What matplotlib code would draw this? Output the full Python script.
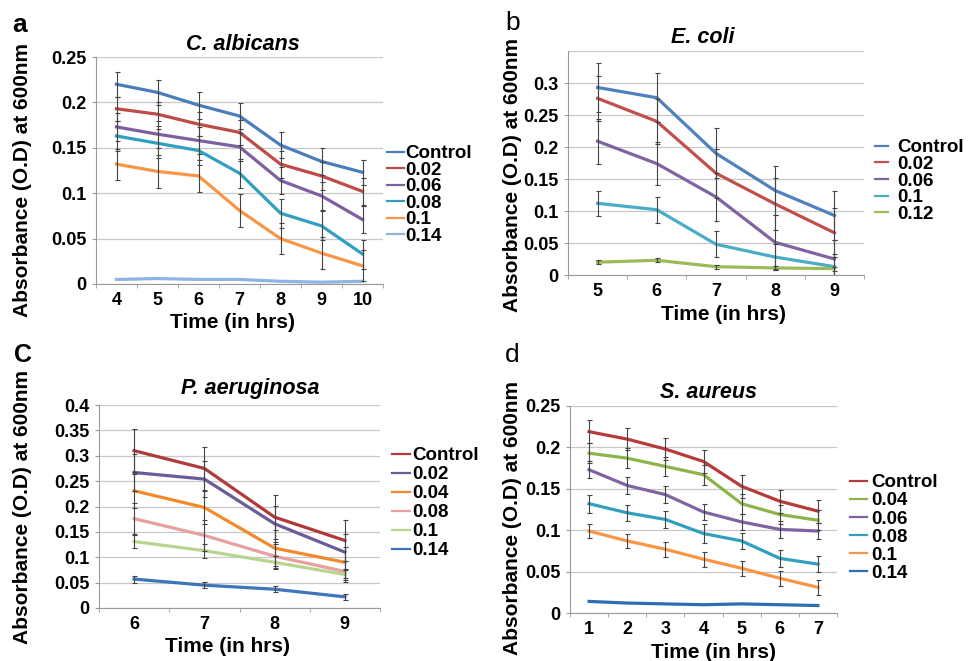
import matplotlib
matplotlib.use("Agg")
import matplotlib.pyplot as plt
import numpy as np

plt.rcParams["font.family"] = ["Liberation Sans", "DejaVu Sans"]
plt.rcParams["font.weight"] = "bold"

# C. albicans
ca_hours = [4, 5, 6, 7, 8, 9, 10]
ca_labels = ["Control", "0.02", "0.06", "0.08", "0.1", "0.14"]
ca_values = [
  [0.220, 0.211, 0.197, 0.185, 0.153, 0.135, 0.123],
  [0.193, 0.187, 0.176, 0.167, 0.132, 0.119, 0.102],
  [0.173, 0.165, 0.158, 0.151, 0.114, 0.097, 0.071],
  [0.163, 0.155, 0.147, 0.122, 0.078, 0.064, 0.033],
  [0.132, 0.124, 0.119, 0.081, 0.050, 0.034, 0.020],
  [0.005, 0.006, 0.005, 0.005, 0.003, 0.002, 0.003],
]
ca_errors = [
  [0.014, 0.014, 0.015, 0.014, 0.014, 0.015, 0.014],
  [0.013, 0.013, 0.013, 0.014, 0.015, 0.015, 0.015],
  [0.015, 0.015, 0.015, 0.015, 0.015, 0.015, 0.015],
  [0.016, 0.016, 0.016, 0.016, 0.016, 0.016, 0.016],
  [0.017, 0.018, 0.018, 0.018, 0.017, 0.018, 0.017],
  None,
]
ca_colors = ["#4A7EBB", "#BE4B48", "#7D60A0", "#31A0BE", "#F79646", "#8EB4E3"]

# E. coli
ec_hours = [5, 6, 7, 8, 9]
ec_labels = ["Control", "0.02", "0.06", "0.1", "0.12"]
ec_values = [
  [0.293, 0.277, 0.190, 0.132, 0.093],
  [0.276, 0.240, 0.159, 0.111, 0.066],
  [0.209, 0.174, 0.122, 0.051, 0.025],
  [0.112, 0.102, 0.048, 0.028, 0.013],
  [0.020, 0.023, 0.013, 0.011, 0.010],
]
ec_errors = [
  [0.039, 0.038, 0.039, 0.038, 0.038],
  [0.035, 0.035, 0.038, 0.040, 0.038],
  [0.035, 0.034, 0.037, 0.042, 0.030],
  [0.020, 0.020, 0.020, 0.020, 0.020],
  [0.003, 0.003, 0.003, 0.003, 0.003],
]
ec_colors = ["#4F81BD", "#C0504D", "#8064A2", "#4BACC6", "#9BBB59"]

# P. aeruginosa
pa_hours = [6, 7, 8, 9]
pa_labels = ["Control", "0.02", "0.04", "0.08", "0.1", "0.14"]
pa_values = [
  [0.310, 0.275, 0.179, 0.133],
  [0.267, 0.254, 0.166, 0.110],
  [0.231, 0.198, 0.118, 0.090],
  [0.176, 0.143, 0.102, 0.072],
  [0.131, 0.113, 0.090, 0.066],
  [0.057, 0.045, 0.037, 0.022],
]
pa_errors = [
  [0.042, 0.042, 0.043, 0.041],
  [0.037, 0.036, 0.035, 0.035],
  [0.033, 0.033, 0.035, 0.030],
  [0.030, 0.030, 0.025, 0.020],
  [0.013, 0.014, 0.012, 0.010],
  [0.007, 0.006, 0.006, 0.006],
]
pa_colors = ["#B03A3A", "#6B5B9A", "#F08A2C", "#E6A0A0", "#B7D58F", "#3F74B8"]

# S. aureus
sa_hours = [1, 2, 3, 4, 5, 6, 7]
sa_labels = ["Control", "0.04", "0.06", "0.08", "0.1", "0.14"]
sa_values = [
  [0.219, 0.210, 0.198, 0.183, 0.153, 0.135, 0.123],
  [0.193, 0.187, 0.177, 0.167, 0.132, 0.119, 0.112],
  [0.173, 0.154, 0.143, 0.122, 0.110, 0.101, 0.099],
  [0.132, 0.121, 0.113, 0.096, 0.087, 0.066, 0.059],
  [0.099, 0.087, 0.077, 0.065, 0.054, 0.042, 0.031],
  [0.014, 0.012, 0.011, 0.010, 0.011, 0.010, 0.009],
]
sa_errors = [
  [0.014, 0.013, 0.013, 0.014, 0.014, 0.014, 0.014],
  [0.012, 0.012, 0.012, 0.012, 0.012, 0.012, 0.012],
  [0.010, 0.010, 0.010, 0.010, 0.010, 0.010, 0.010],
  [0.011, 0.010, 0.010, 0.011, 0.010, 0.010, 0.010],
  [0.009, 0.009, 0.009, 0.009, 0.009, 0.009, 0.009],
  None,
]
sa_colors = ["#B83B3B", "#8DB44A", "#8064A2", "#31A0BE", "#F79646", "#2F6DB5"]

W, H = 969, 661


def fig_rect(x0, y0, x1, y1):
  """Pixel box (top-left origin) to figure fraction rect"""
  return [x0 / W, 1 - y1 / H, (x1 - x0) / W, (y1 - y0) / H]


def draw_panel(ax, hours, labels, values, errors, colors, title, ymax, yticks,
               title_pad, title_x, xlabel_x, ylabel_xy, leg_xy, handlelength,
               textpad, labelspacing):
  x = np.arange(len(hours))
  for vals, errs, color, label in zip(values, errors, colors, labels):
    ax.plot(x, vals, color=color, lw=2.3, label=label, zorder=3)
    if errs is not None:
      ax.errorbar(x, vals, yerr=errs, fmt="none", ecolor="#444444",
                  elinewidth=0.8, capsize=1.8, capthick=0.8, zorder=4)

  ax.set_xlim(-0.5, len(hours) - 0.5)
  ax.set_ylim(0, ymax)
  ax.set_xticks(x)
  ax.set_xticklabels([str(h) for h in hours])
  ax.set_xticks(np.arange(len(hours) + 1) - 0.5, minor=True)
  ax.set_yticks(yticks)
  ax.set_yticklabels([f"{t:g}" for t in yticks])
  ax.grid(axis="y", color="#C8C8C8", lw=0.9)
  ax.set_axisbelow(True)
  for side in ["top", "right"]:
    ax.spines[side].set_visible(False)
  for side in ["left", "bottom"]:
    ax.spines[side].set_color("#9A9A9A")
  ax.tick_params(axis="x", which="major", length=0, pad=6, labelsize=13)
  ax.tick_params(axis="x", which="minor", length=3, color="#9A9A9A")
  ax.tick_params(axis="y", length=3, color="#9A9A9A", pad=4, labelsize=13)

  ax.set_title(title, fontsize=15.5, fontweight="bold", style="italic",
               pad=title_pad, x=title_x)
  ax.set_xlabel("Time (in hrs)", fontsize=15, fontweight="bold", labelpad=3)
  ax.xaxis.label.set_x(xlabel_x)
  ax.set_ylabel("Absorbance (O.D) at 600nm", fontsize=15,
                fontweight="bold", va="center")
  ax.yaxis.set_label_coords(*ylabel_xy)

  leg = ax.legend(loc="center left",
                  bbox_to_anchor=(leg_xy[0] / W, 1 - leg_xy[1] / H),
                  bbox_transform=ax.figure.transFigure, frameon=False,
                  borderpad=0, borderaxespad=0, handlelength=handlelength,
                  handletextpad=textpad, labelspacing=labelspacing,
                  prop={"size": 13.5, "weight": "bold"})
  for line in leg.get_lines():
    line.set_linewidth(1.6)


fig = plt.figure(figsize=(W / 100, H / 100), dpi=100)

ax_a = fig.add_axes(fig_rect(96, 57, 383, 284))
ax_b = fig.add_axes(fig_rect(568, 51, 864, 275))
ax_c = fig.add_axes(fig_rect(99, 405, 380, 608))
ax_d = fig.add_axes(fig_rect(570, 406, 837, 613))

draw_panel(ax_a, ca_hours, ca_labels, ca_values, ca_errors, ca_colors,
           "C. albicans", 0.25, [0, 0.05, 0.1, 0.15, 0.2, 0.25], 5,
           0.512, 0.477, ((23 - 96) / 287, 0.46),
           (387, 195), 0.9, 0.05, -0.03)
draw_panel(ax_b, ec_hours, ec_labels, ec_values, ec_errors, ec_colors,
           "E. coli", 0.35, [0, 0.05, 0.1, 0.15, 0.2, 0.25, 0.3], 6,
           0.456, 0.524, ((512 - 568) / 296, 0.446),
           (875, 181), 0.7, 0.5, -0.03)
draw_panel(ax_c, pa_hours, pa_labels, pa_values, pa_errors, pa_colors,
           "P. aeruginosa", 0.4,
           [0, 0.05, 0.1, 0.15, 0.2, 0.25, 0.3, 0.35, 0.4], 8,
           0.537, 0.459, ((23 - 99) / 281, 0.5),
           (392, 503), 0.95, 0.12, 0.1)
draw_panel(ax_d, sa_hours, sa_labels, sa_values, sa_errors, sa_colors,
           "S. aureus", 0.25, [0, 0.05, 0.1, 0.15, 0.2, 0.25], 6,
           0.517, 0.536, ((512 - 570) / 267, 0.461),
           (850, 528), 0.9, 0.25, 0.05)

# extra gridline at the top of panel b (no label there)
ax_b.axhline(0.35, color="#C8C8C8", lw=0.9, zorder=0)

# panel letters
fig.text(20 / W, 1 - 25 / H, "a", fontsize=19, fontweight="bold",
         ha="center", va="center")
fig.text(513 / W, 1 - 23 / H, "b", fontsize=19, fontweight="normal",
         ha="center", va="center")
fig.text(23 / W, 1 - 355 / H, "C", fontsize=18, fontweight="bold",
         ha="center", va="center")
fig.text(512 / W, 1 - 355 / H, "d", fontsize=19, fontweight="normal",
         ha="center", va="center")

fig.savefig("out.png", dpi=100)
